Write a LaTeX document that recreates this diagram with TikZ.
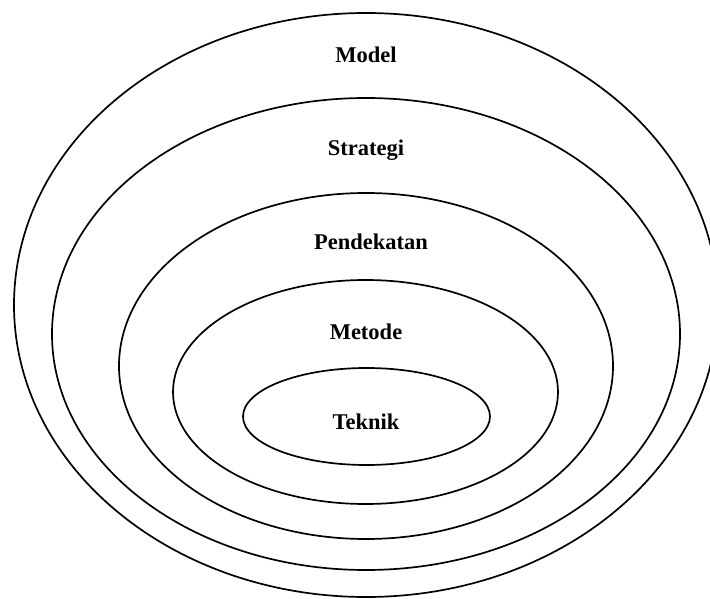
\documentclass[tikz,border=0pt]{standalone}
\usepackage{fontspec}
\setmainfont{Liberation Serif}
\begin{document}
\begin{tikzpicture}[x=1pt,y=-1pt,
  ring/.style={draw=black,line width=1.7pt},
  lbl/.style={font=\bfseries\fontsize{22.5}{26}\selectfont,inner sep=0pt}]
\useasboundingbox (0,0) rectangle (710,599);
\clip (0,0) rectangle (710,599);
\fill[white] (0,0) rectangle (710,599);
\draw[ring] (366,305) ellipse (352 and 292);
\draw[ring] (366,334) ellipse (314 and 236);
\draw[ring] (366,366) ellipse (247 and 173);
\draw[ring] (365.5,392) ellipse (192.5 and 112);
\draw[ring] (366.5,416.5) ellipse (123.5 and 48.5);
\node[lbl] (model) at (366,55) {Model};
\node[lbl] (strategi) at (366,150) {Strategi};
\node[lbl] (pendekatan) at (371,242) {Pendekatan};
\node[lbl] (metode) at (366,332) {Metode};
\node[lbl] (teknik) at (366,422) {Teknik};
\end{tikzpicture}
\end{document}
